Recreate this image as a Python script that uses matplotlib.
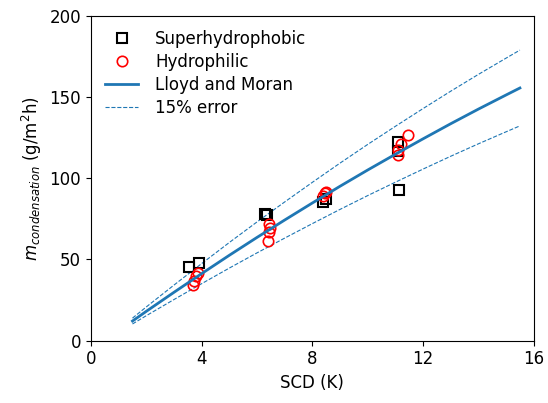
import matplotlib
matplotlib.use("Agg")
import matplotlib.pyplot as plt
import numpy as np

# Superhydrophobic data (SCD K, g/m2h)
sh_x = [3.54, 3.9, 6.3, 6.37, 8.39, 8.5, 11.1, 11.1, 11.12]
sh_y = [45.0, 47.5, 78.0, 77.5, 85.5, 87.0, 122.3, 117.0, 92.6]

# Hydrophilic data
hp_x = [3.7, 3.72, 3.78, 3.85, 6.4, 6.42, 6.46, 6.45, 8.4, 8.45, 8.5, 11.1, 11.1, 11.2, 11.46]
hp_y = [34.0, 36.5, 40.0, 41.3, 61.0, 67.0, 69.5, 71.5, 89.0, 90.6, 91.5, 114.2, 117.2, 121.0, 126.5]

# Lloyd and Moran model curve
lm_x = [1.5, 2, 3, 4, 5, 6, 7, 8, 9, 10, 11, 12, 13, 14, 15, 15.5]
lm_y = [12.0, 18.0, 29.7, 41.2, 52.5, 63.5, 74.2, 84.7, 95.0, 105.0, 114.7, 124.2, 133.5, 142.5, 151.2, 155.5]
err_frac = 0.15

xticks = [0, 4, 8, 12, 16]
yticks = [0, 50, 100, 150, 200]

fig = plt.figure(figsize=(5.48, 4.03), dpi=100)
ax = fig.add_axes([0.166, 0.155, 0.808, 0.806])

lm_y_arr = np.array(lm_y)
ax.plot(sh_x, sh_y, 's', mfc='none', mec='black', ms=7.5, mew=1.5, label='Superhydrophobic', zorder=3)
ax.plot(hp_x, hp_y, 'o', mfc='none', mec='red', ms=7.5, mew=1.2, label='Hydrophilic', zorder=4)
ax.plot(lm_x, lm_y_arr, '-', color='#1f77b4', lw=2, label='Lloyd and Moran', zorder=5)
ax.plot(lm_x, lm_y_arr * (1 + err_frac), '--', color='#1f77b4', lw=0.8, label='15% error')
ax.plot(lm_x, lm_y_arr * (1 - err_frac), '--', color='#1f77b4', lw=0.8)

ax.set_xlim(0, 16)
ax.set_ylim(0, 200)
ax.set_xticks(xticks)
ax.set_yticks(yticks)
ax.tick_params(labelsize=12)
ax.set_xlabel('SCD (K)', fontsize=12)
ax.set_ylabel(r'$m_{condensation}$ (g/m$^2$h)', fontsize=12)
ax.legend(loc='upper left', frameon=False, fontsize=12, borderaxespad=0.45,
          labelspacing=0.3, handletextpad=1.0)

fig.savefig('out.png', dpi=100)
